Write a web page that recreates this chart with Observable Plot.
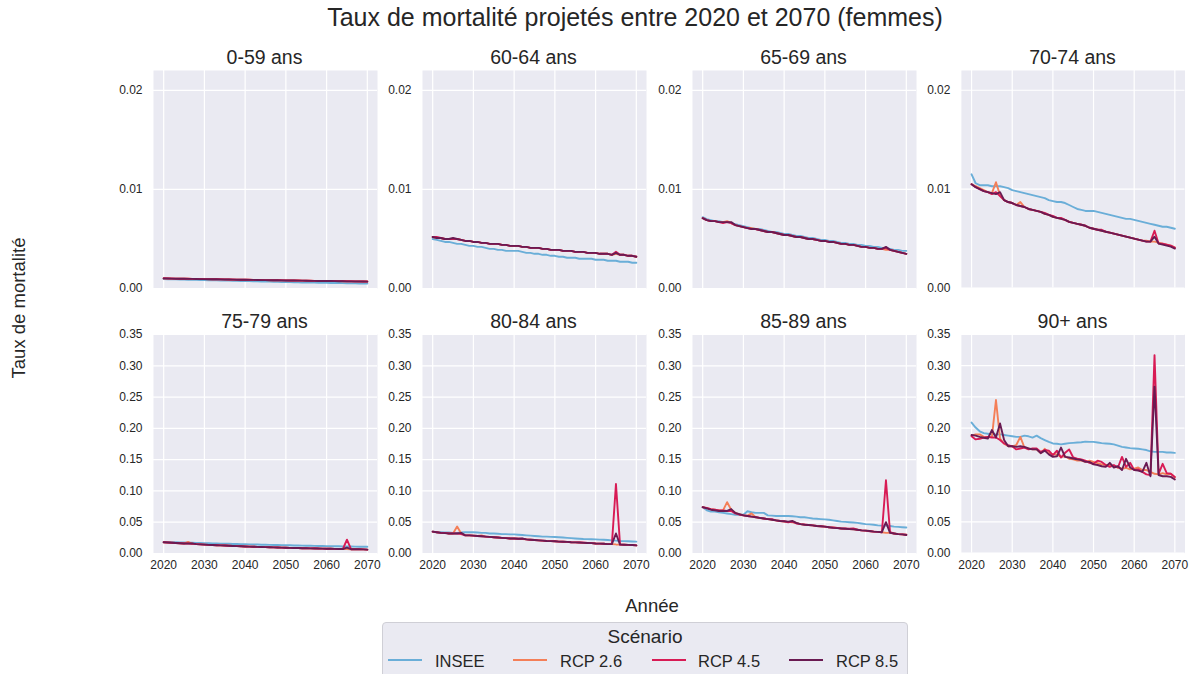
<!DOCTYPE html>
<html>
<head>
<meta charset="utf-8">
<script src="https://cdn.jsdelivr.net/npm/d3@7"></script>
<script src="https://cdn.jsdelivr.net/npm/@observablehq/plot@0.6"></script>
<style>
  html, body { margin: 0; padding: 0; background: #ffffff; }
  #root { position: relative; width: 1190px; height: 674px; overflow: hidden;
          font-family: "Liberation Sans", Arial, sans-serif; color: #262626; }
  .abs { position: absolute; white-space: nowrap; }
  .c { transform: translate(-50%, -50%); }
  .panel { position: absolute; }
  .panel svg { overflow: visible; }
</style>
</head>
<body>
<div id="root"></div>
<script>
// ---------------- DATA ----------------
const title = "Taux de mortalité projetés entre 2020 et 2070 (femmes)";
const yLabel = "Taux de mortalité";
const xLabel = "Année";
const legendTitle = "Scénario";
const ages = ["0-59 ans", "60-64 ans", "65-69 ans", "70-74 ans", "75-79 ans", "80-84 ans", "85-89 ans", "90+ ans"];
const scenarios = ["INSEE", "RCP 2.6", "RCP 4.5", "RCP 8.5"];
const colors = ["#6aaed8", "#f47f58", "#d81b55", "#6a1a52"];
const years = d3.range(2020, 2071);
const xTicks = [2020, 2030, 2040, 2050, 2060, 2070];
const yTicksTop = [0, 0.01, 0.02];
const yTicksBottom = [0, 0.05, 0.10, 0.15, 0.20, 0.25, 0.30, 0.35];

// 0-59
const insee_0_59 = [.00095,.00094,.00093,.00092,.00091,.00090,.00089,.00088,.00087,.00086,.00085,.00084,.00083,.00082,.00081,.00080,.00079,.00078,.00077,.00076,.00075,.00074,.00073,.00072,.00071,.00070,.00069,.00068,.00067,.00066,.00065,.00064,.00063,.00062,.00061,.00060,.00060,.00059,.00058,.00057,.00057,.00056,.00055,.00055,.00054,.00053,.00053,.00052,.00051,.00051,.00050];
const rcp26_0_59 = [.00102,.00101,.00100,.00100,.00099,.00098,.00098,.00097,.00096,.00096,.00095,.00094,.00094,.00093,.00092,.00092,.00091,.00090,.00090,.00089,.00088,.00088,.00087,.00086,.00086,.00085,.00084,.00084,.00083,.00082,.00082,.00081,.00080,.00080,.00079,.00078,.00078,.00077,.00076,.00076,.00075,.00075,.00074,.00074,.00073,.00073,.00072,.00072,.00071,.00071,.00070];
const rcp45_0_59 = [.00103,.00102,.00101,.00100,.00099,.00099,.00098,.00097,.00097,.00096,.00095,.00095,.00094,.00093,.00093,.00092,.00091,.00091,.00090,.00089,.00089,.00088,.00087,.00087,.00086,.00085,.00085,.00084,.00083,.00083,.00082,.00081,.00081,.00080,.00079,.00079,.00078,.00077,.00077,.00076,.00076,.00075,.00075,.00074,.00074,.00073,.00073,.00072,.00072,.00071,.00071];
const rcp85_0_59 = [.00102,.00101,.00100,.00099,.00099,.00098,.00097,.00097,.00096,.00095,.00095,.00094,.00093,.00093,.00092,.00091,.00091,.00090,.00089,.00089,.00088,.00087,.00087,.00086,.00085,.00085,.00084,.00083,.00083,.00082,.00081,.00081,.00080,.00079,.00079,.00078,.00077,.00077,.00076,.00076,.00075,.00075,.00074,.00073,.00073,.00072,.00072,.00071,.00071,.00070,.00069];

// 60-64
const insee_60_64 = [.0050,.0049,.0048,.0047,.0047,.0046,.0045,.0045,.0044,.0043,.0043,.0042,.0042,.0041,.0040,.0040,.0039,.0039,.0038,.0038,.0038,.0038,.0037,.0036,.0036,.0035,.0035,.0034,.0034,.0033,.0033,.0032,.0032,.0031,.0031,.0031,.0030,.0030,.0030,.0030,.0029,.0029,.0029,.0028,.0028,.0028,.0027,.0027,.0027,.0026,.0026];
const rcp26_60_64 = [.0052,.0051,.0051,.0050,.0050,.0050,.0050,.0049,.0048,.0048,.0047,.0047,.0046,.0046,.0045,.0045,.0045,.0044,.0044,.0043,.0043,.0043,.0042,.0042,.0041,.0041,.0041,.0040,.0040,.0039,.0039,.0039,.0038,.0038,.0038,.0037,.0037,.0037,.0036,.0036,.0036,.0035,.0035,.0035,.0034,.0035,.0034,.0034,.0033,.0033,.0032];
const rcp45_60_64 = [.0052,.0052,.0051,.0050,.0050,.0050,.0050,.0049,.0048,.0048,.0047,.0047,.0046,.0046,.0045,.0045,.0045,.0044,.0044,.0043,.0043,.0043,.0042,.0042,.0041,.0041,.0041,.0040,.0040,.0039,.0039,.0039,.0038,.0038,.0038,.0037,.0037,.0037,.0036,.0036,.0036,.0035,.0035,.0035,.0034,.0037,.0034,.0034,.0033,.0033,.0032];
const rcp85_60_64 = [.0052,.0051,.0051,.0050,.0050,.0051,.0050,.0049,.0048,.0048,.0047,.0047,.0046,.0046,.0045,.0045,.0045,.0044,.0044,.0043,.0043,.0043,.0042,.0042,.0041,.0041,.0041,.0040,.0040,.0039,.0039,.0039,.0038,.0038,.0038,.0037,.0037,.0037,.0036,.0036,.0036,.0035,.0035,.0035,.0034,.0036,.0034,.0034,.0033,.0033,.0032];

// 65-69
const insee_65_69 = [.0072,.0070,.0069,.0068,.0068,.0067,.0067,.0066,.0065,.0064,.0063,.0062,.0061,.0060,.0060,.0059,.0058,.0057,.0057,.0056,.0055,.0055,.0054,.0053,.0053,.0052,.0051,.0051,.0050,.0049,.0049,.0048,.0048,.0047,.0046,.0046,.0045,.0045,.0044,.0044,.0043,.0043,.0042,.0042,.0041,.0041,.0040,.0039,.0039,.0038,.0038];
const rcp26_65_69 = [.0071,.0069,.0068,.0068,.0067,.0067,.0068,.0066,.0064,.0063,.0062,.0061,.0061,.0060,.0059,.0058,.0057,.0057,.0056,.0055,.0054,.0054,.0053,.0052,.0052,.0051,.0050,.0050,.0049,.0048,.0048,.0047,.0047,.0046,.0045,.0045,.0044,.0044,.0043,.0042,.0042,.0041,.0041,.0040,.0040,.0039,.0039,.0038,.0037,.0036,.0035];
const rcp45_65_69 = [.0071,.0069,.0068,.0068,.0067,.0066,.0067,.0066,.0064,.0063,.0062,.0061,.0060,.0060,.0059,.0058,.0057,.0057,.0056,.0055,.0054,.0054,.0053,.0052,.0052,.0051,.0050,.0050,.0049,.0048,.0048,.0047,.0047,.0046,.0045,.0045,.0044,.0044,.0043,.0042,.0042,.0041,.0041,.0040,.0040,.0041,.0039,.0038,.0037,.0036,.0035];
const rcp85_65_69 = [.0071,.0069,.0068,.0068,.0067,.0067,.0067,.0067,.0064,.0063,.0062,.0061,.0060,.0060,.0059,.0058,.0057,.0057,.0056,.0055,.0054,.0054,.0053,.0052,.0052,.0051,.0050,.0050,.0049,.0048,.0048,.0047,.0047,.0046,.0045,.0045,.0044,.0044,.0043,.0042,.0042,.0041,.0041,.0040,.0040,.0042,.0039,.0038,.0037,.0036,.0035];

// 70-74
const insee_70_74 = [.0115,.0106,.0104,.0104,.0104,.0103,.0103,.0103,.0102,.0101,.0099,.0098,.0097,.0096,.0095,.0094,.0093,.0092,.0091,.0089,.0088,.0087,.0087,.0086,.0084,.0082,.0080,.0079,.0078,.0078,.0078,.0077,.0076,.0075,.0074,.0073,.0072,.0071,.0070,.0070,.0069,.0068,.0067,.0066,.0065,.0064,.0063,.0062,.0062,.0061,.0060];
const rcp26_70_74 = [.0105,.0103,.0101,.0099,.0097,.0096,.0107,.0094,.0089,.0087,.0086,.0084,.0087,.0082,.0080,.0079,.0078,.0077,.0075,.0074,.0072,.0071,.0070,.0069,.0067,.0066,.0065,.0064,.0063,.0061,.0060,.0059,.0058,.0057,.0056,.0055,.0054,.0053,.0052,.0051,.0050,.0049,.0048,.0048,.0047,.0047,.0046,.0045,.0044,.0043,.0041];
const rcp45_70_74 = [.0105,.0102,.0100,.0098,.0097,.0095,.0097,.0093,.0089,.0087,.0086,.0084,.0083,.0082,.0080,.0079,.0078,.0077,.0076,.0074,.0073,.0071,.0071,.0069,.0067,.0066,.0065,.0064,.0063,.0061,.0060,.0059,.0059,.0057,.0056,.0055,.0054,.0053,.0052,.0051,.0050,.0049,.0048,.0047,.0047,.0058,.0045,.0045,.0044,.0043,.0041];
const rcp85_70_74 = [.0105,.0102,.0100,.0098,.0097,.0096,.0095,.0097,.0089,.0087,.0086,.0084,.0083,.0082,.0080,.0079,.0078,.0077,.0075,.0074,.0072,.0071,.0070,.0069,.0067,.0066,.0065,.0064,.0063,.0061,.0060,.0059,.0058,.0057,.0056,.0055,.0054,.0053,.0052,.0051,.0050,.0049,.0048,.0047,.0047,.0052,.0045,.0044,.0043,.0042,.0040];

// 75-79
const insee_75_79 = [.0185,.0183,.0181,.0179,.0177,.0175,.0173,.0171,.0169,.0167,.0165,.0163,.0162,.0160,.0158,.0156,.0155,.0153,.0151,.0150,.0148,.0146,.0145,.0143,.0141,.0140,.0138,.0137,.0135,.0134,.0132,.0131,.0129,.0128,.0126,.0125,.0124,.0122,.0121,.0120,.0118,.0117,.0116,.0115,.0113,.0112,.0111,.0110,.0109,.0108,.0107];
const rcp26_75_79 = [.0180,.0176,.0172,.0168,.0164,.0160,.0185,.0155,.0150,.0146,.0142,.0138,.0137,.0133,.0130,.0127,.0124,.0121,.0118,.0115,.0113,.0110,.0108,.0106,.0104,.0102,.0100,.0098,.0096,.0094,.0092,.0090,.0089,.0087,.0085,.0084,.0082,.0081,.0079,.0078,.0077,.0075,.0074,.0073,.0072,.0070,.0069,.0068,.0067,.0066,.0062];
const rcp45_75_79 = [.0180,.0176,.0172,.0168,.0164,.0160,.0160,.0155,.0150,.0146,.0142,.0138,.0135,.0133,.0130,.0127,.0124,.0121,.0118,.0115,.0113,.0110,.0108,.0106,.0104,.0102,.0100,.0098,.0096,.0094,.0092,.0090,.0089,.0087,.0085,.0084,.0082,.0083,.0079,.0078,.0077,.0075,.0074,.0073,.0072,.0220,.0069,.0068,.0067,.0066,.0062];
const rcp85_75_79 = [.0180,.0176,.0172,.0168,.0164,.0160,.0160,.0162,.0150,.0146,.0142,.0138,.0135,.0133,.0130,.0127,.0124,.0121,.0118,.0115,.0113,.0110,.0108,.0106,.0104,.0102,.0100,.0098,.0096,.0094,.0092,.0090,.0089,.0087,.0085,.0084,.0082,.0081,.0079,.0078,.0077,.0075,.0074,.0073,.0072,.0095,.0069,.0068,.0067,.0066,.0062];

// 80-84
const insee_80_84 = [.0350,.0340,.0340,.0335,.0335,.0330,.0330,.0335,.0340,.0340,.0340,.0335,.0330,.0330,.0320,.0320,.0315,.0310,.0310,.0305,.0305,.0300,.0295,.0290,.0285,.0280,.0275,.0270,.0270,.0265,.0264,.0260,.0255,.0250,.0245,.0240,.0236,.0232,.0230,.0228,.0226,.0222,.0220,.0215,.0210,.0205,.0200,.0198,.0195,.0192,.0190];
const rcp26_80_84 = [.0350,.0340,.0330,.0330,.0320,.0320,.0430,.0320,.0290,.0290,.0285,.0280,.0290,.0270,.0265,.0260,.0255,.0250,.0245,.0240,.0240,.0235,.0230,.0225,.0220,.0215,.0210,.0205,.0200,.0198,.0195,.0190,.0187,.0185,.0180,.0177,.0175,.0170,.0168,.0165,.0160,.0158,.0155,.0150,.0150,.0145,.0142,.0140,.0138,.0135,.0130];
const rcp45_80_84 = [.0350,.0340,.0330,.0330,.0320,.0320,.0320,.0310,.0290,.0290,.0285,.0280,.0275,.0270,.0265,.0260,.0255,.0250,.0245,.0240,.0240,.0235,.0235,.0225,.0220,.0215,.0210,.0205,.0200,.0198,.0195,.0190,.0187,.0185,.0180,.0177,.0175,.0178,.0168,.0165,.0160,.0158,.0155,.0150,.0150,.1110,.0142,.0140,.0138,.0135,.0130];
const rcp85_80_84 = [.0350,.0340,.0330,.0325,.0320,.0320,.0320,.0330,.0290,.0290,.0285,.0280,.0275,.0270,.0265,.0260,.0255,.0250,.0245,.0240,.0240,.0235,.0240,.0225,.0220,.0215,.0210,.0205,.0200,.0198,.0195,.0190,.0187,.0185,.0180,.0177,.0175,.0170,.0168,.0165,.0160,.0158,.0155,.0150,.0150,.0320,.0142,.0140,.0138,.0135,.0130];

// 85-89
const insee_85_89 = [.074,.069,.067,.067,.066,.065,.064,.063,.062,.062,.062,.0675,.066,.065,.065,.065,.061,.0605,.060,.060,.060,.060,.0595,.059,.058,.058,.057,.056,.0555,.055,.0545,.054,.053,.052,.051,.0505,.050,.0495,.049,.048,.047,.0465,.046,.045,.0445,.0445,.044,.043,.0425,.042,.0415];
const rcp26_85_89 = [.074,.0725,.071,.070,.069,.069,.082,.070,.065,.063,.061,.0605,.064,.058,.0565,.056,.055,.054,.053,.052,.051,.0505,.050,.049,.047,.046,.0455,.045,.044,.0435,.043,.042,.0415,.041,.040,.0395,.039,.0385,.038,.037,.0365,.036,.035,.0345,.034,.033,.033,.032,.031,.0305,.030];
const rcp45_85_89 = [.074,.073,.071,.070,.069,.069,.068,.068,.064,.062,.061,.060,.059,.0585,.057,.056,.055,.055,.053,.052,.0515,.050,.051,.048,.047,.0465,.0455,.045,.044,.0435,.043,.042,.0415,.041,.040,.040,.0395,.040,.038,.037,.0365,.0355,.035,.0345,.034,.117,.034,.032,.031,.0305,.030];
const rcp85_85_89 = [.074,.072,.070,.069,.068,.068,.068,.071,.065,.063,.061,.060,.059,.058,.057,.056,.055,.054,.053,.052,.0515,.051,.052,.049,.047,.046,.0455,.045,.044,.0435,.043,.042,.041,.0405,.040,.0395,.039,.0385,.038,.037,.0365,.036,.035,.0345,.034,.050,.033,.032,.031,.0305,.0295];

// 90+
const insee_90 = [.209,.201,.195,.192,.191,.190,.190,.190,.189,.188,.187,.186,.186,.188,.187,.185,.188,.184,.181,.178,.1755,.175,.174,.175,.176,.1765,.177,.1775,.1785,.178,.178,.177,.176,.1755,.175,.174,.172,.170,.169,.168,.1675,.167,.166,.165,.163,.162,.162,.162,.161,.161,.1605];
const rcp26_90 = [.188,.190,.190,.186,.185,.186,.245,.1835,.175,.171,.171,.173,.186,.169,.1675,.166,.166,.160,.167,.160,.158,.158,.154,.155,.151,.150,.148,.148,.146,.148,.146,.144,.142,.141,.141,.139,.137,.135,.1365,.134,.135,.137,.133,.133,.130,.127,.126,.128,.126,.127,.121];
const rcp45_90 = [.187,.182,.183,.185,.186,.185,.185,.181,.1755,.173,.171,.166,.1675,.169,.166,.1675,.1675,.162,.165,.164,.157,.164,.153,.1605,.166,.153,.151,.150,.148,.1445,.143,.148,.146,.141,.138,.141,.137,.154,.138,.1445,.133,.134,.130,.126,.125,.317,.127,.143,.128,.127,.122];
const rcp85_90 = [.189,.188,.186,.1846,.1835,.197,.185,.2075,.181,.171,.171,.170,.171,.170,.1675,.166,.166,.160,.164,.158,.154,.155,.169,.154,.153,.1515,.150,.149,.146,.146,.142,.141,.139,.138,.1445,.137,.139,.133,.151,.137,.133,.132,.130,.1445,.123,.2665,.125,.123,.123,.122,.1177];

const seriesByAge = [
  [insee_0_59, rcp26_0_59, rcp45_0_59, rcp85_0_59],
  [insee_60_64, rcp26_60_64, rcp45_60_64, rcp85_60_64],
  [insee_65_69, rcp26_65_69, rcp45_65_69, rcp85_65_69],
  [insee_70_74, rcp26_70_74, rcp45_70_74, rcp85_70_74],
  [insee_75_79, rcp26_75_79, rcp45_75_79, rcp85_75_79],
  [insee_80_84, rcp26_80_84, rcp45_80_84, rcp85_80_84],
  [insee_85_89, rcp26_85_89, rcp45_85_89, rcp85_85_89],
  [insee_90, rcp26_90, rcp45_90, rcp85_90]
];

// ---------------- LAYOUT ----------------
const root = document.getElementById("root");
function addText(txt, x, y, size, extra = {}) {
  const d = document.createElement("div");
  d.className = "abs c";
  d.textContent = txt;
  d.style.left = x + "px";
  d.style.top = y + "px";
  d.style.fontSize = size + "px";
  Object.assign(d.style, extra);
  root.appendChild(d);
  return d;
}

addText(title, 635, 17, 25);
addText(yLabel, 19, 308, 18.5, {transform: "translate(-50%, -50%) rotate(-90deg)"});
addText(xLabel, 652, 606, 18.5);

const colLeft = [152.5, 421.5, 691.5, 960.5];
const plotW = 224;
const rowTop = [70, 334];
const rowH = [218, 219];
const mL = 50, mR = 6, mT = 8;

ages.forEach((age, i) => {
  const row = i < 4 ? 0 : 1;
  const col = i % 4;
  const mB = row ? 26 : 8;
  const data = [];
  seriesByAge[i].forEach((vals, j) => {
    vals.forEach((v, k) => data.push({year: years[k], value: v, scenario: scenarios[j]}));
  });
  const yTicks = row ? yTicksBottom : yTicksTop;
  const chart = Plot.plot({
    width: plotW + mL + mR,
    height: rowH[row] + mT + mB,
    marginLeft: mL, marginRight: mR, marginTop: mT, marginBottom: mB,
    style: {background: "transparent", fontFamily: "'Liberation Sans', Arial, sans-serif", fontSize: "12px", color: "#262626", overflow: "visible"},
    x: {domain: [2017.5, 2072.5], axis: null},
    y: {domain: row ? [0, 0.35] : [0, 0.022], axis: null},
    color: {domain: scenarios, range: colors},
    marks: [
      Plot.frame({fill: "#EAEAF2", stroke: null}),
      Plot.gridX({ticks: xTicks, stroke: "#ffffff", strokeOpacity: 1, strokeWidth: 1.2}),
      Plot.gridY({ticks: yTicks, stroke: "#ffffff", strokeOpacity: 1, strokeWidth: 1.2}),
      Plot.axisY({ticks: yTicks, tickSize: 0, tickPadding: 11, tickFormat: d3.format(".2f"), label: null, fill: "#262626"}),
      ...(row ? [Plot.axisX({ticks: xTicks, tickSize: 0, tickPadding: 7, tickFormat: "d", label: null, fill: "#262626"})] : []),
      Plot.line(data, {x: "year", y: "value", stroke: "scenario", z: "scenario", strokeWidth: 1.9})
    ]
  });
  const wrap = document.createElement("div");
  wrap.className = "panel";
  wrap.style.left = (colLeft[col] - mL) + "px";
  wrap.style.top = (rowTop[row] - mT) + "px";
  wrap.appendChild(chart);
  root.appendChild(wrap);
  addText(age, colLeft[col] + plotW / 2, row ? 321 : 57, 19.5);
});

// ---------------- LEGEND ----------------
const lg = document.createElement("div");
lg.className = "abs";
Object.assign(lg.style, {left: "382px", top: "622px", width: "526px", height: "70px",
  background: "#EAEAF2", border: "1px solid #cfcfd6", borderRadius: "4px", boxSizing: "border-box"});
root.appendChild(lg);
addText(legendTitle, 645, 637, 19);
const lineX = [388, 513, 652, 789];
const textX = [435, 560, 698, 836];
scenarios.forEach((s, j) => {
  const ln = document.createElement("div");
  ln.className = "abs";
  Object.assign(ln.style, {left: lineX[j] + "px", top: "659px", width: "34px", height: "2px", background: colors[j]});
  root.appendChild(ln);
  addText(s, textX[j], 661, 16.5, {transform: "translate(0, -50%)"});
});
</script>
</body>
</html>
